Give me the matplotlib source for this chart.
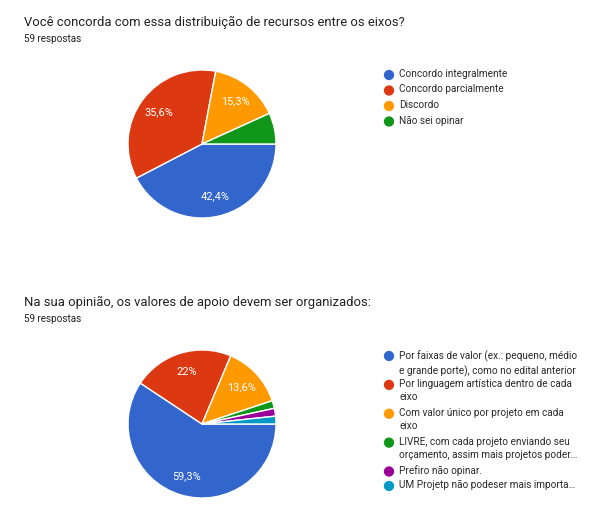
import matplotlib
matplotlib.use("Agg")
import matplotlib.pyplot as plt

plt.rcParams['font.family'] = ['Roboto', 'DejaVu Sans']

# ---- data ----
title1 = "Você concorda com essa distribuição de recursos entre os eixos?"
subtitle1 = "59 respostas"
labels1 = ["Concordo integralmente", "Concordo parcialmente", "Discordo", "Não sei opinar"]
values1 = [25, 21, 9, 4]

title2 = "Na sua opinião, os valores de apoio devem ser organizados:"
subtitle2 = "59 respostas"
labels2 = [
    "Por faixas de valor (ex.: pequeno, médio\ne grande porte), como no edital anterior",
    "Por linguagem artística dentro de cada\neixo",
    "Com valor único por projeto em cada\neixo",
    "LIVRE, com cada projeto enviando seu\norçamento, assim mais projetos poder…",
    "Prefiro não opinar.",
    "UM Projetp não podeser mais importa…",
]
values2 = [35, 13, 8, 1, 1, 1]

colors = ["#3366cc", "#dc3912", "#ff9900", "#109618", "#990099", "#0099c6"]

W, H = 592, 522
fig = plt.figure(figsize=(W / 100, H / 100), dpi=100)
fig.patch.set_facecolor("white")

# overlay axes in pixel coordinates for titles and legends
ov = fig.add_axes([0, 0, 1, 1])
ov.set_xlim(0, W)
ov.set_ylim(H, 0)
ov.axis("off")


def fmt_pct(p):
    s = f"{p:.1f}"
    if s.endswith(".0"):
        s = s[:-2]
    return s.replace(".", ",") + "%"


def draw_chart(y0, title, subtitle, labels, values, legend_y, legend_step):
    # titles
    ov.text(24, y0 + 22.5, title, fontsize=9.4, color="#202124", va="center", ha="left")
    ov.text(24, y0 + 38.5, subtitle, fontsize=7.1, color="#202124", va="center", ha="left")

    # pie
    cx, cy, r = 202, y0 + 144, 74
    ax = fig.add_axes([(cx - r) / W, (H - cy - r) / H, 2 * r / W, 2 * r / H])
    wedges, texts, autotexts = ax.pie(
        values,
        colors=colors[:len(values)],
        startangle=0,
        counterclock=False,
        autopct=lambda p: fmt_pct(p) if p >= 10 else "",
        pctdistance=0.73,
        wedgeprops=dict(edgecolor="white", linewidth=1.0),
        textprops=dict(color="white", fontsize=7.9),
    )
    ax.set_xlim(-1.0, 1.0)
    ax.set_ylim(-1.0, 1.0)
    ax.axis("off")

    # legend
    line = 0
    for i, lab in enumerate(labels):
        yy = legend_y + line * legend_step
        ov.scatter([389], [yy], s=55, color=colors[i], edgecolors="none", zorder=3)
        ov.text(399, yy - 6.0, lab, fontsize=7.2, color="#2a2a2a", va="top", ha="left",
                linespacing=1.44)
        line += lab.count("\n") + 1


draw_chart(0, title1, subtitle1, labels1, values1, 75, 15.5)
draw_chart(280, title2, subtitle2, labels2, values2, 356, 14.44)

fig.savefig("out.png", dpi=100, facecolor="white")
